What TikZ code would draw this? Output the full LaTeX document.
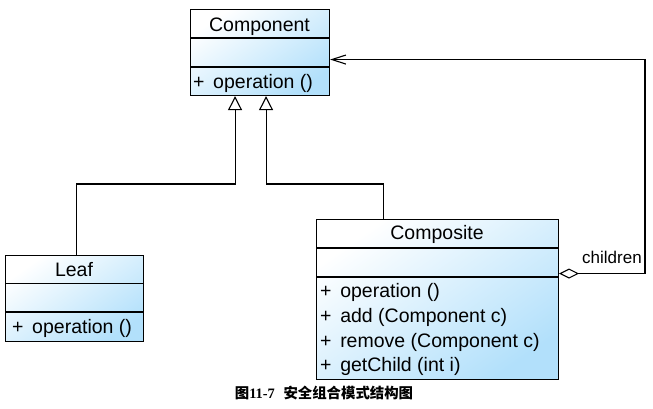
\documentclass[tikz,border=0pt]{standalone}
\usepackage{fontspec}
\setmainfont{Liberation Sans}
\newfontfamily\cjk{Noto Sans CJK SC}
\newfontfamily\serifnum{Liberation Serif}
\usetikzlibrary{arrows.meta}
\definecolor{umlblue}{RGB}{178,224,251}
\tikzset{
  cls/.style={draw=black, line width=1.1pt, top color=white, bottom color=umlblue, shading angle=35, inner sep=0pt, anchor=north west},
  sep/.style={draw=black, line width=1.1pt},
  txt/.style={inner sep=0pt, font=\fontsize{19.5}{24}\selectfont},
  lbl/.style={inner sep=0pt, font=\fontsize{17}{20}\selectfont},
  gen/.style={draw=black, line width=1.1pt, -{Triangle[length=14pt,width=14pt,fill=white,line width=1.1pt]}},
  agg/.style={draw=black, line width=1.1pt, {Diamond[length=20pt,width=10pt,fill=white,line width=1.1pt]}-{Straight Barb[length=14pt,width=9pt,line width=1.1pt]}}
}
\begin{document}
\begin{tikzpicture}[x=1pt,y=-1pt]
\useasboundingbox (0,0) rectangle (653,408);
% Component
\node[cls, minimum width=139pt, minimum height=86pt] (comp) at (190,9) {};
\draw[sep] (190,38) -- (329,38);
\draw[sep] (190,67) -- (329,67);
\node[txt, anchor=base] (compname) at (259.5,31) {Component};
\node[txt, anchor=base west] (compop) at (193,88) {+ \,operation ()};
% Leaf
\node[cls, minimum width=138pt, minimum height=86pt] (leaf) at (5,255) {};
\draw[sep] (5,283.5) -- (143,283.5);
\draw[sep] (5,312) -- (143,312);
\node[txt, anchor=base] (leafname) at (74,276) {Leaf};
\node[txt, anchor=base west] (leafop) at (12,333) {+ \,operation ()};
% Composite
\node[cls, minimum width=242pt, minimum height=160pt] (compo) at (316,219) {};
\draw[sep] (316,248) -- (558,248);
\draw[sep] (316,277) -- (558,277);
\node[txt, anchor=base] (componame) at (437,239) {Composite};
\node[txt, anchor=base west] (o1) at (320,297) {+ \,operation ()};
\node[txt, anchor=base west] (o2) at (320,322) {+ \,add (Component c)};
\node[txt, anchor=base west] (o3) at (320,347) {+ \,remove (Component c)};
\node[txt, anchor=base west] (o4) at (320,371) {+ \,getChild (int i)};
% connectors
\coordinate (bend) at (0,184);
\coordinate (g1) at ([xshift=-25pt]comp.south);
\coordinate (g2) at ([xshift=6pt]comp.south);
\coordinate (lt) at ([xshift=1.5pt]leaf.north);
\coordinate (ct) at ([xshift=-54pt]compo.north);
\draw[gen] (lt) -- (lt |- bend) -| (g1);
\draw[gen] (ct) -- (ct |- bend) -| (g2);
\coordinate (a1) at ([yshift=26pt]compo.east);
\coordinate (a2) at ([yshift=-7pt]comp.east);
\coordinate (xr) at (645,0);
\draw[agg] (a1) -- (a1 -| xr) |- (a2);
\node[lbl, anchor=base west] (children) at (582,263) {children};
% caption
\node[inner sep=0pt, anchor=base] (cap) at (324,398) {\fontsize{14.4}{16}\selectfont\bfseries{\cjk 图}{\serifnum 11-7}\hspace{0.6em}{\cjk 安全组合模式结构图}};
\end{tikzpicture}
\end{document}
